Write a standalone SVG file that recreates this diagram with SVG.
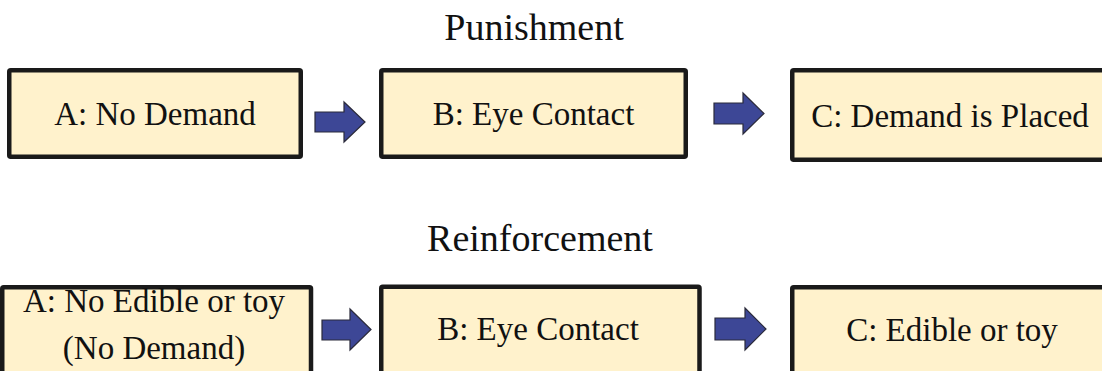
<svg xmlns="http://www.w3.org/2000/svg" width="1102" height="371" viewBox="0 0 1102 371">
<style>
.box{fill:#fff2cc;stroke:#1a1a1a;stroke-width:4.5;}
.t{font-family:"Liberation Serif","Times New Roman",serif;font-size:33px;fill:#111;text-anchor:middle;}
.title{font-family:"Liberation Serif","Times New Roman",serif;font-size:38px;fill:#111;text-anchor:middle;}
.arr{fill:#3d4796;stroke:#2a2a3a;stroke-width:1.2;stroke-linejoin:miter;}
</style>
<rect width="1102" height="371" fill="#ffffff"/>
<text class="title" x="534" y="40">Punishment</text>
<text class="title" x="540" y="251">Reinforcement</text>
<g id="p-a"><rect class="box" x="9.25" y="70.25" width="291.5" height="86.5" rx="1.5"/><text class="t" x="155" y="125">A: No Demand</text></g>
<g id="p-b"><rect class="box" x="381.25" y="70.25" width="304.5" height="86.5" rx="1.5"/><text class="t" x="533.5" y="125">B: Eye Contact</text></g>
<g id="p-c"><rect class="box" x="792.25" y="70.25" width="320" height="89.5" rx="1.5"/><text class="t" x="950" y="127">C: Demand is Placed</text></g>
<g id="r-a"><rect class="box" x="2.25" y="287.25" width="308.75" height="100" rx="1.5"/><text class="t" x="154" y="312">A: No Edible or toy</text><text class="t" x="154" y="359">(No Demand)</text></g>
<g id="r-b"><rect class="box" x="381.25" y="286.75" width="318.25" height="100" rx="1.5"/><text class="t" x="538" y="340">B: Eye Contact</text></g>
<g id="r-c"><rect class="box" x="792.25" y="287.25" width="330" height="100" rx="1.5"/><text class="t" x="952" y="340.5">C: Edible or toy</text></g>
<g id="connectors">
<polygon class="arr" points="315,112 344,112 344,102 365,122 344,142 344,132 315,132"/>
<polygon class="arr" points="714,103 743,103 743,93 764,113.5 743,134 743,124 714,124"/>
<polygon class="arr" points="322,320 350,320 350,309 371,329.5 350,350 350,340 322,340"/>
<polygon class="arr" points="715,318 745,318 745,308 766,329 745,350 745,340 715,340"/>
</g>
</svg>
